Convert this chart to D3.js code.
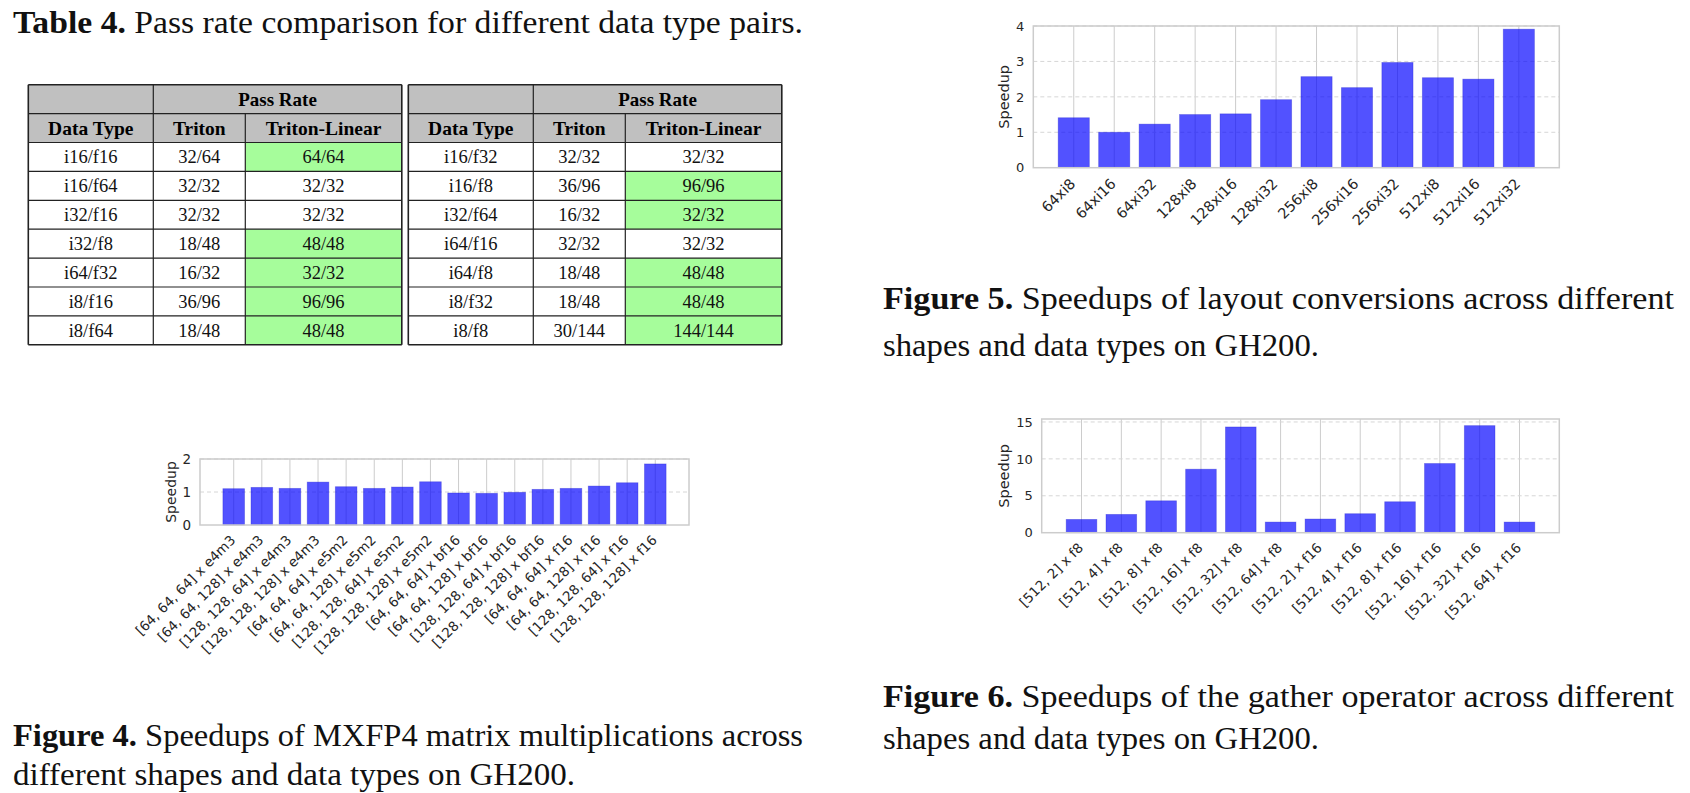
<!DOCTYPE html>
<html><head><meta charset="utf-8">
<script src="https://cdn.jsdelivr.net/npm/d3@7/dist/d3.min.js"></script>
<style>body{margin:0;background:#fff}svg{display:block}</style>
</head><body>
<svg id="c" width="1690" height="793"></svg>
<script>
// ---------- Table 4 data ----------
const tblHeaderTop = ["", "Pass Rate"];
const tblHeaderCols = ["Data Type", "Triton", "Triton-Linear"];
const leftTypes   = ["i16/f16","i16/f64","i32/f16","i32/f8","i64/f32","i8/f16","i8/f64"];
const leftTriton  = ["32/64","32/32","32/32","18/48","16/32","36/96","18/48"];
const leftLinear  = ["64/64","32/32","32/32","48/48","32/32","96/96","48/48"];
const rightTypes  = ["i16/f32","i16/f8","i32/f64","i64/f16","i64/f8","i8/f32","i8/f8"];
const rightTriton = ["32/32","36/96","16/32","32/32","18/48","18/48","30/144"];
const rightLinear = ["32/32","96/96","32/32","32/32","48/48","48/48","144/144"];

// ---------- Figure 4 data ----------
const fig4Cats = ["[64, 64, 64] x e4m3","[64, 64, 128] x e4m3","[128, 128, 64] x e4m3","[128, 128, 128] x e4m3",
  "[64, 64, 64] x e5m2","[64, 64, 128] x e5m2","[128, 128, 64] x e5m2","[128, 128, 128] x e5m2",
  "[64, 64, 64] x bf16","[64, 64, 128] x bf16","[128, 128, 64] x bf16","[128, 128, 128] x bf16",
  "[64, 64, 64] x f16","[64, 64, 128] x f16","[128, 128, 64] x f16","[128, 128, 128] x f16"];
const fig4Vals = [1.10,1.14,1.11,1.30,1.16,1.11,1.15,1.31,0.97,0.96,0.99,1.08,1.11,1.18,1.28,1.85];
const fig4Ticks = [0,1,2];

// ---------- Figure 5 data ----------
const fig5Cats = ["64xi8","64xi16","64xi32","128xi8","128xi16","128xi32","256xi8","256xi16","256xi32","512xi8","512xi16","512xi32"];
const fig5Vals = [1.41,1.00,1.23,1.50,1.52,1.92,2.57,2.26,2.97,2.54,2.50,3.91];
const fig5Ticks = [0,1,2,3,4];

// ---------- Figure 6 data ----------
const fig6Cats = ["[512, 2] x f8","[512, 4] x f8","[512, 8] x f8","[512, 16] x f8","[512, 32] x f8","[512, 64] x f8",
  "[512, 2] x f16","[512, 4] x f16","[512, 8] x f16","[512, 16] x f16","[512, 32] x f16","[512, 64] x f16"];
const fig6Vals = [1.80,2.48,4.32,8.60,14.32,1.44,1.85,2.57,4.19,9.37,14.50,1.44];
const fig6Ticks = [0,5,10,15];

const svg = d3.select("#c");
const SERIF = "'Liberation Serif','DejaVu Serif',serif";
const SANS = "'DejaVu Sans',sans-serif";

// ---------- table ----------
function drawTable(x0, types, triton, linear) {
  const colW = [125, 92, 156.5];
  const xs = [x0, x0+colW[0], x0+colW[0]+colW[1], x0+colW[0]+colW[1]+colW[2]];
  const rowY = d3.range(10).map(i => 84.7 + i*28.9);
  const g = svg.append("g");
  // header background
  g.append("rect").attr("x", xs[0]).attr("y", rowY[0]).attr("width", xs[3]-xs[0]).attr("height", rowY[2]-rowY[0]).attr("fill", "#c0c0c0");
  // green cells
  types.forEach((t,i) => {
    if (triton[i] !== linear[i]) {
      g.append("rect").attr("x", xs[2]).attr("y", rowY[i+2]).attr("width", xs[3]-xs[2]).attr("height", rowY[i+3]-rowY[i+2]).attr("fill", "#a6fd9b");
    }
  });
  // grid lines
  rowY.forEach((y,i) => {
    const xa = (i===1) ? xs[0] : xs[0];
    g.append("line").attr("x1", xa).attr("x2", xs[3]).attr("y1", y).attr("y2", y).attr("stroke", "#222").attr("stroke-width", (i===0||i===9)?1.6:1.2);
  });
  xs.forEach((x,i) => {
    const y1 = (i===2) ? rowY[1] : rowY[0];
    g.append("line").attr("x1", x).attr("x2", x).attr("y1", y1).attr("y2", rowY[9]).attr("stroke", "#222").attr("stroke-width", (i===0||i===3)?1.6:1.2);
  });
  // header text
  g.append("text").attr("x", (xs[1]+xs[3])/2).attr("y", (rowY[0]+rowY[1])/2+6.5).attr("text-anchor","middle")
    .attr("font-family", SERIF).attr("font-weight","bold").attr("font-size", 19).text(tblHeaderTop[1]);
  tblHeaderCols.forEach((h,i) => {
    g.append("text").attr("x", (xs[i]+xs[i+1])/2).attr("y", (rowY[1]+rowY[2])/2+6.5).attr("text-anchor","middle")
      .attr("font-family", SERIF).attr("font-weight","bold").attr("font-size", 19.5).text(h);
  });
  const cols = [types, triton, linear];
  cols.forEach((col, c) => {
    col.forEach((v, r) => {
      g.append("text").attr("x", (xs[c]+xs[c+1])/2).attr("y", (rowY[r+2]+rowY[r+3])/2+6.3).attr("text-anchor","middle")
        .attr("font-family", SERIF).attr("font-size", 18.5).attr("fill","#111").text(v);
    });
  });
}
drawTable(28.3, leftTypes, leftTriton, leftLinear);
drawTable(408.3, rightTypes, rightTriton, rightLinear);

// ---------- bar charts ----------
function barChart(cfg) {
  const n = cfg.cats.length;
  const x = d3.scaleLinear().domain([-cfg.pad, n-1+cfg.pad]).range([cfg.left, cfg.right]);
  const y = d3.scaleLinear().domain([0, cfg.yMax]).range([cfg.bottom, cfg.top]);
  const g = svg.append("g");
  // vertical grid
  g.selectAll(".vg").data(cfg.cats).join("line")
    .attr("x1", (d,i)=>x(i)).attr("x2", (d,i)=>x(i)).attr("y1", cfg.top).attr("y2", cfg.bottom)
    .attr("stroke", "#cccccc").attr("stroke-width", 1);
  // horizontal dashed grid
  g.selectAll(".hg").data(cfg.ticks.filter(t => t > 0)).join("line")
    .attr("x1", cfg.left).attr("x2", cfg.right).attr("y1", d=>y(d)).attr("y2", d=>y(d))
    .attr("stroke", "#d6d6d6").attr("stroke-width", 1).attr("stroke-dasharray", "4,3");
  // bars
  const bw = (x(1)-x(0))*0.77;
  g.selectAll(".bar").data(cfg.vals).join("rect")
    .attr("x", (d,i)=>x(i)-bw/2).attr("y", d=>y(d)).attr("width", bw).attr("height", d=>cfg.bottom-y(d))
    .attr("fill", "#0000ff").attr("fill-opacity", 0.68)
    .attr("stroke", "#2020d0").attr("stroke-opacity", 0.4).attr("stroke-width", 0.8);
  // frame
  g.append("rect").attr("x", cfg.left).attr("y", cfg.top).attr("width", cfg.right-cfg.left).attr("height", cfg.bottom-cfg.top)
    .attr("fill","none").attr("stroke","#cccccc").attr("stroke-width",1.5);
  // y axis
  const ya = g.append("g").attr("transform", `translate(${cfg.left},0)`)
    .call(d3.axisLeft(y).tickValues(cfg.ticks).tickSize(0).tickPadding(9).tickFormat(d3.format("d")));
  ya.select(".domain").remove();
  ya.selectAll("text").attr("font-family", SANS).attr("font-size", cfg.tickFont).attr("fill", "#262626");
  // x axis
  const xa = g.append("g").attr("transform", `translate(0,${cfg.bottom})`)
    .call(d3.axisBottom(x).tickValues(d3.range(n)).tickSize(0).tickFormat(i => cfg.cats[i]));
  xa.select(".domain").remove();
  xa.selectAll("text").attr("font-family", SANS).attr("font-size", cfg.labelFont).attr("fill", "#262626")
    .attr("text-anchor","end").attr("x",0).attr("y",0).attr("dy",0)
    .attr("transform", `translate(${cfg.lx},${cfg.ly}) rotate(-45)`);
  // y label
  g.append("text").attr("transform", `translate(${cfg.ylx},${(cfg.top+cfg.bottom)/2}) rotate(-90)`)
    .attr("text-anchor","middle").attr("font-family", SANS).attr("font-size", cfg.ylFont).attr("fill","#262626")
    .text("Speedup");
}

barChart({cats: fig5Cats, vals: fig5Vals, ticks: fig5Ticks, yMax: 4, pad: 1,
  left: 1033.3, right: 1559.3, top: 26, bottom: 167.7, tickFont: 13, labelFont: 14.5, ylFont: 14.5, ylx: 1009, lx: 2, ly: 17});
barChart({cats: fig4Cats, vals: fig4Vals, ticks: fig4Ticks, yMax: 2, pad: 1.2,
  left: 200, right: 689, top: 459, bottom: 525, tickFont: 13.5, labelFont: 13.5, ylFont: 14, ylx: 176, lx: 2, ly: 16});
barChart({cats: fig6Cats, vals: fig6Vals, ticks: fig6Ticks, yMax: 15.4, pad: 1,
  left: 1041.7, right: 1559.3, top: 419, bottom: 532.7, tickFont: 13, labelFont: 13.5, ylFont: 14.5, ylx: 1009, lx: 2, ly: 16});

// ---------- captions ----------
function caption(x, y, bold, rest, width) {
  const t = svg.append("text").attr("x", x).attr("y", y).attr("font-family", SERIF).attr("font-size", 32).attr("fill","#111");
  if (bold) t.append("tspan").attr("font-weight","bold").text(bold + " ");
  t.append("tspan").text(rest);
  if (width) t.attr("textLength", width).attr("lengthAdjust", "spacingAndGlyphs");
}
caption(13, 33, "Table 4.", "Pass rate comparison for different data type pairs.", 790);
caption(883, 309, "Figure 5.", "Speedups of layout conversions across different", 791);
caption(883, 356, null, "shapes and data types on GH200.", 436);
caption(13, 746, "Figure 4.", "Speedups of MXFP4 matrix multiplications across", 790);
caption(13, 785, null, "different shapes and data types on GH200.", 562);
caption(883, 707, "Figure 6.", "Speedups of the gather operator across different", 791);
caption(883, 749, null, "shapes and data types on GH200.", 436);
</script>
</body></html>
